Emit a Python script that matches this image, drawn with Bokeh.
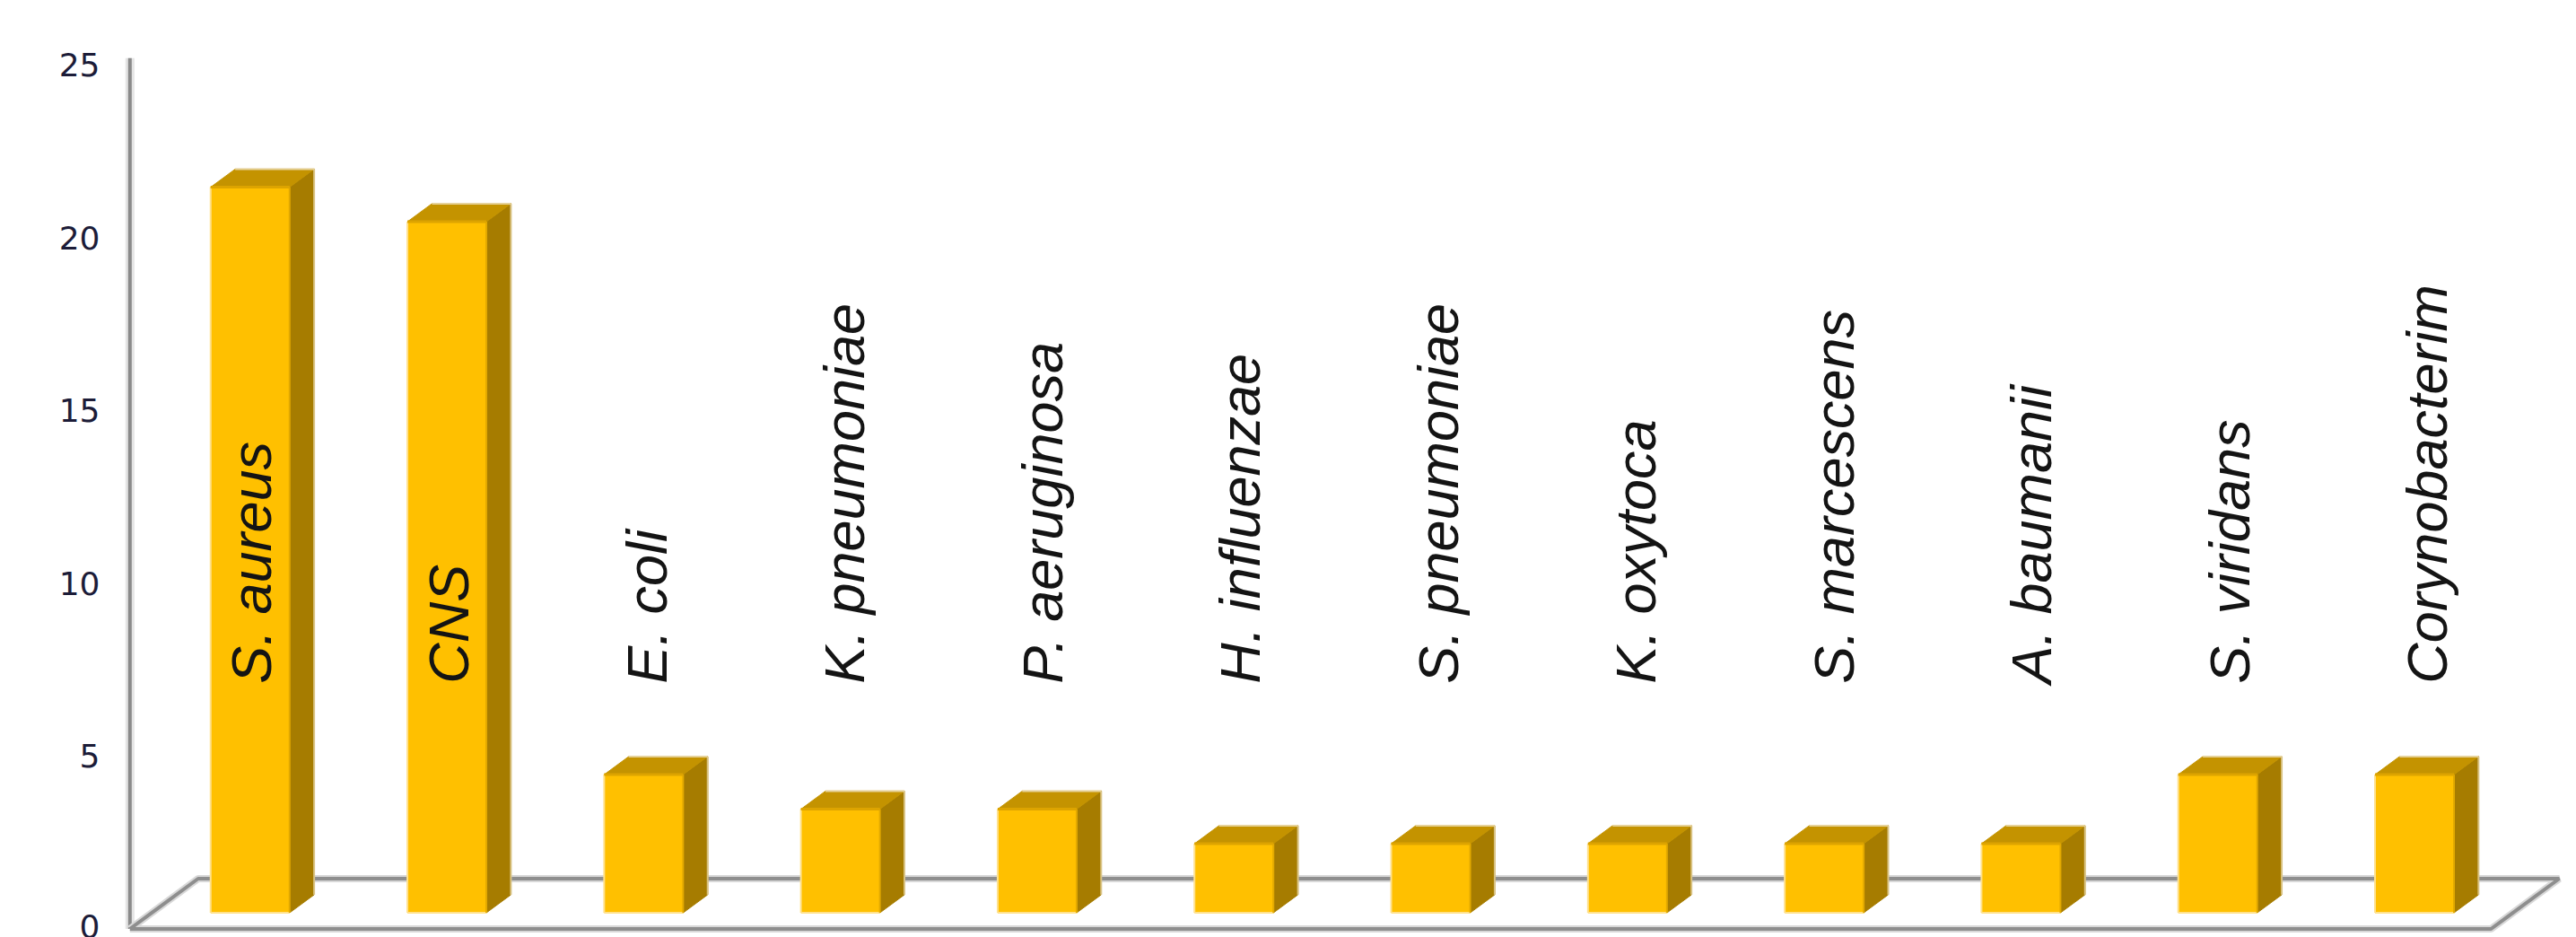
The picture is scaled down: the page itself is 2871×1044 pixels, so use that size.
import numpy as np
from bokeh.plotting import figure
from bokeh.models import Range1d, FixedTicker, ColumnDataSource
from bokeh.embed import file_html
from bokeh.resources import INLINE
from bokeh.core.properties import value

# ---------------- data ----------------
categories = ["S. aureus", "CNS", "E. coli", "K. pneumoniae", "P. aeruginosa",
              "H. influenzae", "S. pneumoniae", "K. oxytoca", "S. marcescens",
              "A. baumanii", "S. viridans", "Corynobacterim"]
counts = [21, 20, 4, 3, 3, 2, 2, 2, 2, 2, 4, 4]
y_ticks = [0, 5, 10, 15, 20, 25]

# ---------------- 3D projection constants ----------------
PX_PER_CAT = 219.3
PX_PER_UNIT = 38.5
DX = 76 / PX_PER_CAT      # x shift for the full floor depth (data units)
DY = 56 / PX_PER_UNIT     # y shift for the full floor depth (data units)
D0, D1 = 0.32, 0.68       # bar front / back depth
W = 88 / PX_PER_CAT       # bar width (data units)
WALL_TOP = 25.2
LABEL_V = 7.1
LABEL_SHIFT_PX = 1.0
LABEL_SPREAD_PX = 1.2

FRONT = "#FFC000"
TOP = "#C49300"
SIDE = "#A67C00"

n = len(categories)
idx = np.arange(n)
vals = np.array(counts, dtype=float)

p = figure(width=2871, height=1044, output_backend="svg", toolbar_location=None,
           x_range=Range1d(-0.588, 11.934), y_range=Range1d(-0.247, 26.870),
           x_axis_location=None, y_axis_location="left",
           min_border_left=125, min_border_right=0, min_border_top=0, min_border_bottom=0,
           outline_line_color=None, background_fill_color="white", border_fill_color="white")
p.xgrid.visible = False
p.ygrid.visible = False

ax = p.yaxis[0]
ax.ticker = FixedTicker(ticks=y_ticks)
ax.axis_line_color = None
ax.major_tick_line_color = None
ax.minor_tick_line_color = None
ax.major_tick_out = 0
ax.major_tick_in = 0
ax.major_label_standoff = 14
ax.major_label_text_font = "DejaVu Sans"
ax.major_label_text_font_size = "36px"
ax.major_label_text_color = "#1c1c38"

# ---------------- wall & floor ----------------
x_lo, x_hi = -0.5, n - 0.5
p.line([x_lo, x_lo], [0, WALL_TOP], line_color="#e4e4e4", line_width=10)
p.line([x_lo, x_lo], [0, WALL_TOP], line_color="#8a8a8a", line_width=4)

floor_x = [x_lo, x_hi, x_hi + DX, x_lo + DX, x_lo]
floor_y = [0, 0, DY, DY, 0]
p.line(floor_x, floor_y, line_color="#d8d8d8", line_width=8)
p.line(floor_x, floor_y, line_color="#8e8e8e", line_width=4)

# ---------------- bars ----------------
cf = idx + D0 * DX                # front-face centre
left0 = cf - W / 2
right0 = cf + W / 2
right1 = right0 + (D1 - D0) * DX
left1 = left0 + (D1 - D0) * DX
base0 = D0 * DY
base1 = D1 * DY
top0 = base0 + vals
top1 = base1 + vals

side_xs = [[r0, r1, r1, r0] for r0, r1 in zip(right0, right1)]
side_ys = [[base0, base1, t1, t0] for t0, t1 in zip(top0, top1)]
top_xs = [[l0, r0, r1, l1] for l0, r0, r1, l1 in zip(left0, right0, right1, left1)]
top_ys = [[t0, t0, t1, t1] for t0, t1 in zip(top0, top1)]

p.patches(side_xs, side_ys, fill_color=SIDE, line_color=SIDE, line_width=1)
p.patches(top_xs, top_ys, fill_color=TOP, line_color=TOP, line_width=1)
# subtle light edges
p.segment(x0=right1, y0=np.full(n, base1), x1=right1, y1=top1, line_color="#D9C384", line_width=2)
p.segment(x0=left1, y0=top1, x1=right1, y1=top1, line_color="#E6D29A", line_width=2)
p.quad(left=left0, right=right0, bottom=np.full(n, base0), top=top0,
       fill_color=FRONT, line_color=None)
p.segment(x0=left0, y0=np.full(n, base0), x1=left0, y1=top0, line_color="#FFE18C", line_width=2)
p.segment(x0=left0, y0=np.full(n, base0), x1=right0, y1=np.full(n, base0), line_color="#FFE18C", line_width=2)
p.segment(x0=right0, y0=np.full(n, base0), x1=right0, y1=top0, line_color="#E2A900", line_width=2)
p.segment(x0=left0, y0=top0, x1=right0, y1=top0, line_color="#DDA400", line_width=3)

# ---------------- category labels ----------------
label_x = cf + (LABEL_SHIFT_PX + LABEL_SPREAD_PX * idx) / PX_PER_CAT
src = ColumnDataSource(dict(x=label_x, y=np.full(n, LABEL_V), text=categories))
p.text(x="x", y="y", text="text", source=src, angle=np.pi / 2,
       text_align="left", text_baseline="alphabetic",
       text_font=value("Liberation Sans"), text_font_style="italic",
       text_font_size="63px", text_color="#141414")

open("out.html", "w").write(file_html(p, INLINE))
